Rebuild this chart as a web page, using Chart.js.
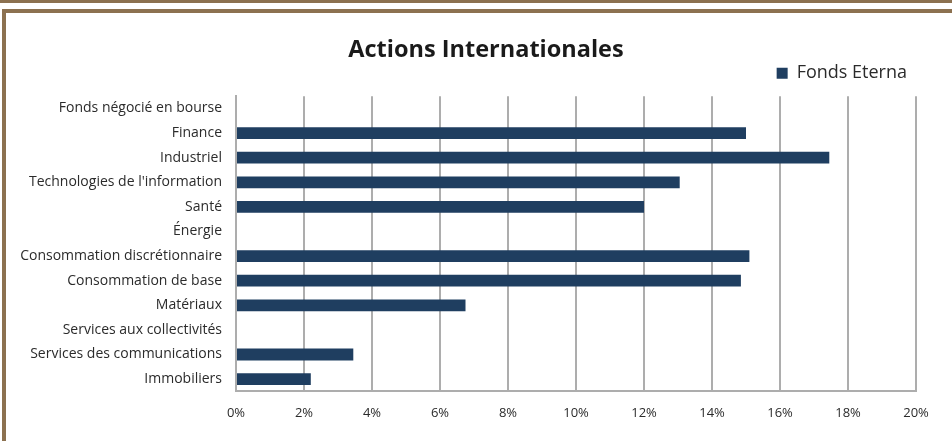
<!DOCTYPE html>
<html>
<head>
<meta charset="utf-8">
<script src="https://cdn.jsdelivr.net/npm/chart.js@4/dist/chart.umd.min.js"></script>
<style>
    html, body { margin: 0; padding: 0; background: #fff; }
    #page { position: relative; width: 952px; height: 441px; overflow: hidden; }
    .band-top { position: absolute; left: 0; top: 0; width: 952px; height: 3px; background: #8c7150; }
    .frame { position: absolute; left: 2px; top: 9px; width: 950px; height: 440px;
             border-top: 4px solid #8c7150; border-left: 4px solid #8c7150; box-sizing: border-box; }
    #wrap { position: absolute; left: 0; top: 0; width: 952px; height: 441px; }
</style>
</head>
<body>
<div id="page">
    <div class="band-top"></div>
    <div class="frame"></div>
    <div id="wrap"><canvas id="sectorChart"></canvas></div>
</div>
<script>
// Sectors, top to bottom as in the picture
const categories = [
    "Fonds négocié en bourse",
    "Finance",
    "Industriel",
    "Technologies de l'information",
    "Santé",
    "Énergie",
    "Consommation discrétionnaire",
    "Consommation de base",
    "Matériaux",
    "Services aux collectivités",
    "Services des communications",
    "Immobiliers"
];

// Weights in %
const fondsEterna = [0, 15.0, 17.45, 13.05, 12.0, 0, 15.1, 14.85, 6.75, 0, 3.45, 2.2];

const seriesLabel = "Fonds Eterna";
const chartTitle = "Actions Internationales";
const xMin = 0;
const xMax = 20;
const xStep = 2;

const barColor = "#1f3e60";
const gridColor = "#adadad";
const textColor = "#2b2b2b";
const fontFamily = "'Open Sans', 'Liberation Sans', sans-serif";

// nudge title to the right and legend up a bit (the original is centred on the whole frame)
const nudgeBlocks = {
    id: "nudgeBlocks",
    afterLayout: function (chart) {
        if (chart.titleBlock) chart.titleBlock.left += 56;
        if (chart.legend) {
            chart.legend.top -= 4;
            chart.legend.bottom -= 4;
        }
    }
};

const ctx = document.getElementById("sectorChart").getContext("2d");

const sectorChart = new Chart(ctx, {
    type: "bar",
    data: {
        labels: categories,
        datasets: [{
            label: seriesLabel,
            data: fondsEterna,
            backgroundColor: barColor,
            borderWidth: 0,
            barPercentage: 0.48,
            categoryPercentage: 1.0
        }]
    },
    options: {
        indexAxis: "y",
        responsive: true,
        maintainAspectRatio: false,
        animation: false,
        layout: {
            padding: { left: 0, right: 36, top: 0, bottom: 6 }
        },
        scales: {
            x: {
                min: xMin,
                max: xMax,
                ticks: {
                    stepSize: xStep,
                    padding: 14,
                    color: textColor,
                    font: { family: fontFamily, size: 13 },
                    callback: function (value) { return value + "%"; }
                },
                grid: {
                    color: gridColor,
                    lineWidth: 2,
                    drawTicks: false
                },
                border: { color: gridColor, width: 2 }
            },
            y: {
                // keep the plot's left edge where the reference has it
                afterFit: function (scale) { scale.width = 236; },
                ticks: {
                    padding: 14,
                    color: textColor,
                    font: { family: fontFamily, size: 14 }
                },
                grid: { display: false, drawTicks: false },
                border: { color: gridColor, width: 2 }
            }
        },
        plugins: {
            title: {
                display: true,
                text: chartTitle,
                color: "#1a1a1a",
                font: { family: fontFamily, size: 23.5, weight: "bold" },
                padding: { top: 36, bottom: -5 }
            },
            legend: {
                display: true,
                position: "top",
                align: "end",
                labels: {
                    boxWidth: 11,
                    boxHeight: 11,
                    padding: 9,
                    color: textColor,
                    font: { family: fontFamily, size: 18 }
                }
            },
            tooltip: { enabled: false }
        }
    },
    plugins: [nudgeBlocks]
});
</script>
</body>
</html>
